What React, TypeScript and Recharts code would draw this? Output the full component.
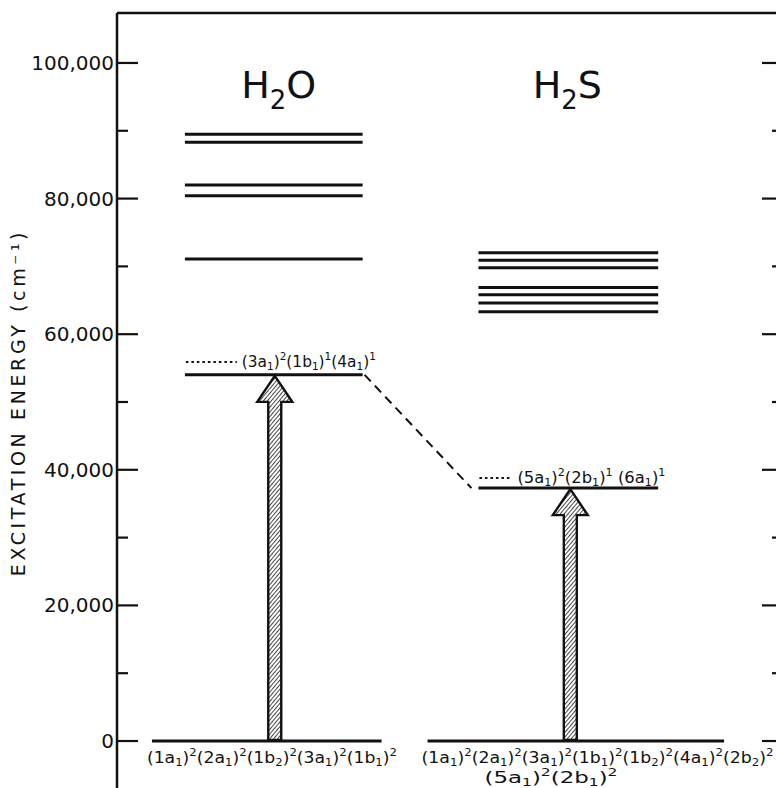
import React from "react"
import { ComposedChart, XAxis, YAxis, Line, ReferenceLine, ReferenceDot } from "recharts"

// excitation energies, cm-1
const energyTicks = [0, 10000, 20000, 30000, 40000, 50000, 60000, 70000, 80000, 90000, 100000]
const labeledTicks = [0, 20000, 40000, 60000, 80000, 100000]

const molecules = ["H_2O", "H_2S"]
const h2oUpperLevels = [89500, 88300, 82000, 80400, 71100]
const h2sUpperLevels = [72000, 70900, 69800, 66900, 65800, 64600, 63300]
const firstExcited = [54000, 37300]
const firstExcitedDotted = [55900, 38800]
const groundEnergy = 0
const excitedConfigs = ["(3a_1)^2(1b_1)^1(4a_1)^1", "(5a_1)^2(2b_1)^1 (6a_1)^1"]
const groundConfigs = [
  ["(1a_1)^2(2a_1)^2(1b_2)^2(3a_1)^2(1b_1)^2"],
  ["(1a_1)^2(2a_1)^2(3a_1)^2(1b_1)^2(1b_2)^2(4a_1)^2(2b_2)^2", "(5a_1)^2(2b_1)^2"],
]

// drawing layout (x in axis units = px from the left axis)
const W = 777
const H = 788
const FONT = "'DejaVu Sans', sans-serif"
const titleEnergy = 94800
const columns = [
  { arrowX: 158, upper: [68, 246], ground: [35, 265], dotted: [69, 120], exLabelW: 134, gLabel: [[30, 250]], titleX: 162 },
  { arrowX: 454, upper: [362, 542], ground: [311, 608], dotted: [363, 396], exLabelW: 148, gLabel: [[305, 352], [368, 133]], titleX: 451 },
]

// one two-point row set per level line
const levelSeries = [
  ...h2oUpperLevels.map((e) => ({ col: 0, e })),
  ...h2sUpperLevels.map((e) => ({ col: 1, e })),
  ...firstExcited.map((e, i) => ({ col: i, e })),
].map(({ col, e }) => [{ x: columns[col].upper[0], e }, { x: columns[col].upper[1], e }])

function Formula({ text, x, y, fontSize, width, anchor = "start", sub = 0.18, sup = 0.42 }: any) {
  const parts: any[] = []
  const re = /([_^])(.)|([^_^]+)/g
  let m: any
  let shift = 0
  let i = 0
  while ((m = re.exec(text))) {
    if (m[3]) {
      parts.push(<tspan key={i++} dy={-shift} fontSize={fontSize}>{m[3]}</tspan>)
      shift = 0
    } else {
      const s = m[1] === "^" ? -fontSize * sup : fontSize * sub
      parts.push(<tspan key={i++} dy={s - shift} fontSize={fontSize * 0.68}>{m[2]}</tspan>)
      shift = s
    }
  }
  return (
    <text x={x} y={y} fontFamily={FONT} fill="#111" textAnchor={anchor}
      textLength={width} lengthAdjust={width ? "spacingAndGlyphs" : undefined}>
      {parts}
    </text>
  )
}

const fmt = (v: number) => v.toLocaleString("en-US")

function LeftTick({ x, y, payload }: any) {
  const major = labeledTicks.includes(payload.value)
  return (
    <g>
      <line x1={x} x2={x + (major ? 21 : 11)} y1={y} y2={y} stroke="#111" strokeWidth={2.2} />
      {major && (
        <text x={x - 3} y={y} dy={7} textAnchor="end" fontSize={20} fontFamily={FONT} fill="#111">
          {fmt(payload.value)}
        </text>
      )}
    </g>
  )
}

function RightTick({ x, y, payload }: any) {
  const major = labeledTicks.includes(payload.value)
  return <line x1={x - (major ? 14 : 4)} x2={x} y1={y} y2={y} stroke="#111" strokeWidth={2.2} />
}

function Arrow({ x1, y1, y2 }: any) {
  const base = Math.max(y1, y2) - 1
  const tip = Math.min(y1, y2) + 1
  const sw = 6.5, hw = 17.5, hh = 26
  const d = `M${x1 - sw},${base} L${x1 - sw},${tip + hh} L${x1 - hw},${tip + hh} L${x1},${tip} L${x1 + hw},${tip + hh} L${x1 + sw},${tip + hh} L${x1 + sw},${base} Z`
  return <path d={d} fill="url(#hatch)" stroke="#111" strokeWidth={2.4} strokeLinejoin="miter" />
}

export default function App() {
  return (
    <div style={{ position: "absolute", left: 0, top: 0, background: "#fff" }}>
      <ComposedChart width={W} height={H} margin={{ top: 12, right: 0, bottom: 0, left: 0 }}>
        <defs>
          <pattern id="hatch" width="3" height="3" patternUnits="userSpaceOnUse" patternTransform="rotate(40)">
            <rect width="3" height="3" fill="#fff" />
            <line x1="0" y1="0" x2="0" y2="3" stroke="#333" strokeWidth="1.8" />
          </pattern>
        </defs>
        <XAxis xAxisId="x" dataKey="x" orientation="top" type="number" domain={[0, 660]} allowDataOverflow
          height={1} tick={false} tickLine={false} axisLine={{ stroke: "#111", strokeWidth: 2.5 }} />
        <YAxis yAxisId="e" dataKey="e" type="number" domain={[-6930, 107370]} allowDataOverflow ticks={energyTicks}
          interval={0} width={117} tickSize={0} tickMargin={0} tickLine={false} tick={<LeftTick />}
          axisLine={{ stroke: "#111", strokeWidth: 2.5 }}
          label={{
            content: ({ viewBox }: any) => {
              const cx = viewBox.x + 18
              const cy = viewBox.y + viewBox.height / 2 + 2
              return (
                <text x={cx} y={cy} transform={`rotate(-90 ${cx} ${cy})`} textAnchor="middle" dominantBaseline="central"
                  fontSize={19} letterSpacing={3.6} fontFamily={FONT} fill="#111">
                  EXCITATION ENERGY (cm⁻¹)
                </text>
              )
            },
          }} />
        <YAxis yAxisId="r" orientation="right" type="number" domain={[-6930, 107370]} allowDataOverflow ticks={energyTicks}
          interval={0} width={1} tickSize={0} tickMargin={0} tickLine={false} axisLine={false} tick={<RightTick />} />

        {levelSeries.map((rows, k) => (
          <Line key={"lv" + k} data={rows} xAxisId="x" yAxisId="e" dataKey="e" type="linear"
            stroke="#111" strokeWidth={3} dot={false} activeDot={false} isAnimationActive={false} />
        ))}

        {molecules.map((m, i) => (
          <ReferenceDot key={"t" + m} xAxisId="x" yAxisId="e" x={columns[i].titleX} y={titleEnergy} r={0} ifOverflow="visible"
            shape={(p: any) => <Formula text={m} x={p.cx} y={p.cy} fontSize={38} anchor="middle" sub={0.28} />} />
        ))}

        {firstExcitedDotted.map((e, i) => (
          <ReferenceLine key={"d" + i} xAxisId="x" yAxisId="e" ifOverflow="visible"
            segment={[{ x: columns[i].dotted[0], y: e }, { x: columns[i].dotted[1], y: e }]}
            shape={(p: any) => (
              <g>
                <line x1={p.x1} x2={p.x2} y1={p.y1} y2={p.y2} stroke="#111" strokeWidth={2} strokeDasharray="2.5 3" />
                <Formula text={excitedConfigs[i]} x={p.x2 + 5} y={p.y1 + 5} fontSize={16} width={columns[i].exLabelW} />
              </g>
            )} />
        ))}

        <ReferenceLine xAxisId="x" yAxisId="e" ifOverflow="visible" stroke="#111" strokeWidth={2} strokeDasharray="9 6"
          segment={[{ x: columns[0].upper[1] + 2, y: firstExcited[0] }, { x: columns[1].upper[0] - 7, y: firstExcited[1] }]} />

        {columns.map((c, i) => (
          <ReferenceLine key={"arrow" + i} xAxisId="x" yAxisId="e" ifOverflow="visible"
            segment={[{ x: c.arrowX, y: groundEnergy }, { x: c.arrowX, y: firstExcited[i] }]}
            shape={(p: any) => <Arrow {...p} />} />
        ))}

        {columns.map((c, i) => (
          <ReferenceLine key={"g" + i} xAxisId="x" yAxisId="e" ifOverflow="visible"
            segment={[{ x: c.ground[0], y: groundEnergy }, { x: c.ground[1], y: groundEnergy }]}
            shape={(p: any) => (
              <g>
                <line x1={p.x1} x2={p.x2} y1={p.y1} y2={p.y2} stroke="#111" strokeWidth={3} />
                {groundConfigs[i].map((txt, j) => (
                  <Formula key={j} text={txt} x={p.x1 + (c.gLabel[j][0] - c.ground[0])} y={p.y1 + 22 + j * 20}
                    fontSize={16} width={c.gLabel[j][1]} />
                ))}
              </g>
            )} />
        ))}
      </ComposedChart>
    </div>
  )
}
